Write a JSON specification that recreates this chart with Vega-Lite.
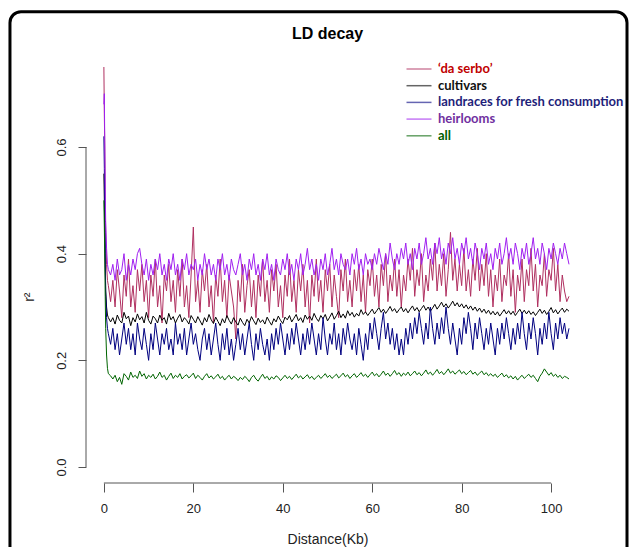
{
"$schema":"https://vega.github.io/schema/vega-lite/v6.json",
"width":483,"height":432,
"autosize":"none",
"padding":{"left":86,"top":51,"right":60,"bottom":64},
"background":"white",
"config":{"view":{"stroke":null},"font":"Liberation Sans"},
"title":{"text":"LD decay","fontSize":16,"fontWeight":"bold","font":"Liberation Sans","color":"#000000","anchor":"middle","baseline":"alphabetic","offset":-45},
"layer":[
{"data":{"values":[
{"d":0,"ds":0.75,"cv":0.55,"lr":0.62,"hl":0.68,"al":0.5},
{"d":0.1,"ds":0.66,"cv":0.5,"lr":0.56,"hl":0.7,"al":0.45},
{"d":0.2,"ds":0.6,"cv":0.44,"lr":0.48,"hl":0.6,"al":0.39},
{"d":0.3,"ds":0.5,"cv":0.38,"lr":0.4,"hl":0.52,"al":0.32},
{"d":0.4,"ds":0.44,"cv":0.33,"lr":0.33,"hl":0.46,"al":0.26},
{"d":0.6,"ds":0.38,"cv":0.3,"lr":0.28,"hl":0.41,"al":0.21},
{"d":0.8,"ds":0.35,"cv":0.285,"lr":0.26,"hl":0.38,"al":0.185},
{"d":1,"ds":0.34,"cv":0.28,"lr":0.25,"hl":0.37,"al":0.175},
{"d":1.5,"ds":0.31,"cv":0.272,"lr":0.23,"hl":0.36,"al":0.171},
{"d":2,"ds":0.35,"cv":0.28,"lr":0.26,"hl":0.38,"al":0.165},
{"d":2.5,"ds":0.3,"cv":0.268,"lr":0.22,"hl":0.35,"al":0.172},
{"d":3,"ds":0.37,"cv":0.285,"lr":0.25,"hl":0.39,"al":0.16},
{"d":3.5,"ds":0.33,"cv":0.275,"lr":0.21,"hl":0.36,"al":0.168},
{"d":4,"ds":0.28,"cv":0.27,"lr":0.24,"hl":0.37,"al":0.155},
{"d":4.5,"ds":0.36,"cv":0.29,"lr":0.27,"hl":0.4,"al":0.175},
{"d":5,"ds":0.32,"cv":0.278,"lr":0.23,"hl":0.35,"al":0.17},
{"d":5.5,"ds":0.39,"cv":0.283,"lr":0.26,"hl":0.38,"al":0.163},
{"d":6,"ds":0.3,"cv":0.265,"lr":0.22,"hl":0.36,"al":0.178},
{"d":6.5,"ds":0.34,"cv":0.28,"lr":0.25,"hl":0.39,"al":0.168},
{"d":7,"ds":0.29,"cv":0.272,"lr":0.21,"hl":0.37,"al":0.172},
{"d":7.5,"ds":0.37,"cv":0.287,"lr":0.27,"hl":0.4,"al":0.166},
{"d":8,"ds":0.33,"cv":0.276,"lr":0.24,"hl":0.41,"al":0.18},
{"d":8.5,"ds":0.38,"cv":0.282,"lr":0.22,"hl":0.38,"al":0.17},
{"d":9,"ds":0.31,"cv":0.27,"lr":0.26,"hl":0.36,"al":0.175},
{"d":9.5,"ds":0.35,"cv":0.29,"lr":0.23,"hl":0.39,"al":0.165},
{"d":10,"ds":0.28,"cv":0.275,"lr":0.2,"hl":0.35,"al":0.172},
{"d":10.5,"ds":0.36,"cv":0.268,"lr":0.25,"hl":0.38,"al":0.168},
{"d":11,"ds":0.32,"cv":0.283,"lr":0.22,"hl":0.36,"al":0.174},
{"d":11.5,"ds":0.39,"cv":0.278,"lr":0.27,"hl":0.39,"al":0.165},
{"d":12,"ds":0.3,"cv":0.27,"lr":0.24,"hl":0.37,"al":0.17},
{"d":12.5,"ds":0.34,"cv":0.285,"lr":0.21,"hl":0.4,"al":0.178},
{"d":13,"ds":0.27,"cv":0.275,"lr":0.25,"hl":0.36,"al":0.168},
{"d":13.5,"ds":0.36,"cv":0.28,"lr":0.23,"hl":0.38,"al":0.172},
{"d":14,"ds":0.33,"cv":0.268,"lr":0.26,"hl":0.35,"al":0.163},
{"d":14.5,"ds":0.38,"cv":0.288,"lr":0.22,"hl":0.39,"al":0.17},
{"d":15,"ds":0.31,"cv":0.276,"lr":0.24,"hl":0.37,"al":0.176},
{"d":15.5,"ds":0.35,"cv":0.282,"lr":0.21,"hl":0.4,"al":0.166},
{"d":16,"ds":0.29,"cv":0.27,"lr":0.27,"hl":0.36,"al":0.172},
{"d":16.5,"ds":0.37,"cv":0.279,"lr":0.23,"hl":0.38,"al":0.168},
{"d":17,"ds":0.32,"cv":0.286,"lr":0.25,"hl":0.35,"al":0.175},
{"d":17.5,"ds":0.39,"cv":0.272,"lr":0.22,"hl":0.39,"al":0.165},
{"d":18,"ds":0.3,"cv":0.28,"lr":0.26,"hl":0.37,"al":0.17},
{"d":18.5,"ds":0.34,"cv":0.275,"lr":0.21,"hl":0.4,"al":0.173},
{"d":19,"ds":0.28,"cv":0.268,"lr":0.24,"hl":0.36,"al":0.167},
{"d":19.5,"ds":0.36,"cv":0.284,"lr":0.27,"hl":0.38,"al":0.171},
{"d":20,"ds":0.45,"cv":0.277,"lr":0.23,"hl":0.37,"al":0.176},
{"d":20.5,"ds":0.31,"cv":0.27,"lr":0.25,"hl":0.39,"al":0.166},
{"d":21,"ds":0.35,"cv":0.282,"lr":0.22,"hl":0.35,"al":0.172},
{"d":21.5,"ds":0.29,"cv":0.274,"lr":0.2,"hl":0.38,"al":0.168},
{"d":22,"ds":0.37,"cv":0.266,"lr":0.24,"hl":0.36,"al":0.163},
{"d":22.5,"ds":0.33,"cv":0.28,"lr":0.26,"hl":0.4,"al":0.17},
{"d":23,"ds":0.38,"cv":0.272,"lr":0.22,"hl":0.37,"al":0.175},
{"d":23.5,"ds":0.3,"cv":0.286,"lr":0.25,"hl":0.39,"al":0.167},
{"d":24,"ds":0.34,"cv":0.276,"lr":0.21,"hl":0.36,"al":0.171},
{"d":24.5,"ds":0.27,"cv":0.269,"lr":0.24,"hl":0.38,"al":0.165},
{"d":25,"ds":0.36,"cv":0.281,"lr":0.27,"hl":0.35,"al":0.169},
{"d":25.5,"ds":0.32,"cv":0.273,"lr":0.23,"hl":0.39,"al":0.174},
{"d":26,"ds":0.39,"cv":0.265,"lr":0.2,"hl":0.37,"al":0.166},
{"d":26.5,"ds":0.31,"cv":0.278,"lr":0.25,"hl":0.4,"al":0.17},
{"d":27,"ds":0.35,"cv":0.27,"lr":0.22,"hl":0.36,"al":0.163},
{"d":27.5,"ds":0.28,"cv":0.284,"lr":0.26,"hl":0.38,"al":0.168},
{"d":28,"ds":0.36,"cv":0.275,"lr":0.21,"hl":0.35,"al":0.172},
{"d":28.5,"ds":0.33,"cv":0.268,"lr":0.24,"hl":0.39,"al":0.165},
{"d":29,"ds":0.3,"cv":0.28,"lr":0.2,"hl":0.37,"al":0.17},
{"d":29.5,"ds":0.24,"cv":0.272,"lr":0.23,"hl":0.36,"al":0.167},
{"d":30,"ds":0.35,"cv":0.266,"lr":0.26,"hl":0.38,"al":0.162},
{"d":30.5,"ds":0.31,"cv":0.279,"lr":0.22,"hl":0.4,"al":0.168},
{"d":31,"ds":0.38,"cv":0.271,"lr":0.25,"hl":0.36,"al":0.164},
{"d":31.5,"ds":0.29,"cv":0.265,"lr":0.21,"hl":0.38,"al":0.17},
{"d":32,"ds":0.34,"cv":0.277,"lr":0.24,"hl":0.35,"al":0.166},
{"d":32.5,"ds":0.37,"cv":0.27,"lr":0.27,"hl":0.39,"al":0.16},
{"d":33,"ds":0.3,"cv":0.282,"lr":0.23,"hl":0.37,"al":0.168},
{"d":33.5,"ds":0.35,"cv":0.274,"lr":0.2,"hl":0.4,"al":0.172},
{"d":34,"ds":0.28,"cv":0.267,"lr":0.25,"hl":0.36,"al":0.165},
{"d":34.5,"ds":0.36,"cv":0.279,"lr":0.22,"hl":0.38,"al":0.161},
{"d":35,"ds":0.32,"cv":0.271,"lr":0.26,"hl":0.35,"al":0.168},
{"d":35.5,"ds":0.39,"cv":0.276,"lr":0.23,"hl":0.39,"al":0.174},
{"d":36,"ds":0.31,"cv":0.268,"lr":0.21,"hl":0.37,"al":0.166},
{"d":36.5,"ds":0.35,"cv":0.281,"lr":0.24,"hl":0.4,"al":0.17},
{"d":37,"ds":0.29,"cv":0.273,"lr":0.2,"hl":0.36,"al":0.163},
{"d":37.5,"ds":0.37,"cv":0.266,"lr":0.25,"hl":0.38,"al":0.169},
{"d":38,"ds":0.33,"cv":0.278,"lr":0.22,"hl":0.35,"al":0.165},
{"d":38.5,"ds":0.38,"cv":0.272,"lr":0.26,"hl":0.39,"al":0.171},
{"d":39,"ds":0.3,"cv":0.283,"lr":0.23,"hl":0.37,"al":0.168},
{"d":39.5,"ds":0.34,"cv":0.275,"lr":0.27,"hl":0.36,"al":0.162},
{"d":40,"ds":0.28,"cv":0.269,"lr":0.24,"hl":0.39,"al":0.167},
{"d":40.5,"ds":0.36,"cv":0.281,"lr":0.21,"hl":0.37,"al":0.172},
{"d":41,"ds":0.32,"cv":0.276,"lr":0.25,"hl":0.4,"al":0.166},
{"d":41.5,"ds":0.39,"cv":0.284,"lr":0.22,"hl":0.36,"al":0.17},
{"d":42,"ds":0.31,"cv":0.272,"lr":0.26,"hl":0.38,"al":0.164},
{"d":42.5,"ds":0.35,"cv":0.279,"lr":0.23,"hl":0.35,"al":0.169},
{"d":43,"ds":0.29,"cv":0.286,"lr":0.27,"hl":0.39,"al":0.174},
{"d":43.5,"ds":0.37,"cv":0.274,"lr":0.24,"hl":0.37,"al":0.167},
{"d":44,"ds":0.33,"cv":0.28,"lr":0.21,"hl":0.4,"al":0.171},
{"d":44.5,"ds":0.38,"cv":0.271,"lr":0.25,"hl":0.36,"al":0.165},
{"d":45,"ds":0.3,"cv":0.285,"lr":0.22,"hl":0.38,"al":0.169},
{"d":45.5,"ds":0.35,"cv":0.277,"lr":0.26,"hl":0.41,"al":0.173},
{"d":46,"ds":0.27,"cv":0.283,"lr":0.23,"hl":0.37,"al":0.166},
{"d":46.5,"ds":0.36,"cv":0.275,"lr":0.27,"hl":0.39,"al":0.17},
{"d":47,"ds":0.32,"cv":0.288,"lr":0.24,"hl":0.36,"al":0.164},
{"d":47.5,"ds":0.39,"cv":0.279,"lr":0.21,"hl":0.38,"al":0.168},
{"d":48,"ds":0.31,"cv":0.273,"lr":0.25,"hl":0.35,"al":0.172},
{"d":48.5,"ds":0.35,"cv":0.284,"lr":0.22,"hl":0.39,"al":0.166},
{"d":49,"ds":0.29,"cv":0.278,"lr":0.28,"hl":0.37,"al":0.17},
{"d":49.5,"ds":0.37,"cv":0.286,"lr":0.24,"hl":0.4,"al":0.175},
{"d":50,"ds":0.33,"cv":0.274,"lr":0.21,"hl":0.36,"al":0.168},
{"d":50.5,"ds":0.38,"cv":0.281,"lr":0.25,"hl":0.38,"al":0.172},
{"d":51,"ds":0.3,"cv":0.289,"lr":0.23,"hl":0.41,"al":0.166},
{"d":51.5,"ds":0.36,"cv":0.277,"lr":0.27,"hl":0.37,"al":0.17},
{"d":52,"ds":0.32,"cv":0.284,"lr":0.22,"hl":0.39,"al":0.174},
{"d":52.5,"ds":0.28,"cv":0.292,"lr":0.25,"hl":0.36,"al":0.167},
{"d":53,"ds":0.37,"cv":0.28,"lr":0.21,"hl":0.4,"al":0.171},
{"d":53.5,"ds":0.33,"cv":0.287,"lr":0.26,"hl":0.38,"al":0.176},
{"d":54,"ds":0.39,"cv":0.279,"lr":0.23,"hl":0.37,"al":0.169},
{"d":54.5,"ds":0.31,"cv":0.293,"lr":0.27,"hl":0.39,"al":0.173},
{"d":55,"ds":0.35,"cv":0.284,"lr":0.24,"hl":0.36,"al":0.166},
{"d":55.5,"ds":0.3,"cv":0.29,"lr":0.22,"hl":0.4,"al":0.171},
{"d":56,"ds":0.37,"cv":0.281,"lr":0.25,"hl":0.38,"al":0.175},
{"d":56.5,"ds":0.33,"cv":0.288,"lr":0.21,"hl":0.41,"al":0.168},
{"d":57,"ds":0.38,"cv":0.283,"lr":0.26,"hl":0.37,"al":0.172},
{"d":57.5,"ds":0.31,"cv":0.295,"lr":0.23,"hl":0.39,"al":0.177},
{"d":58,"ds":0.36,"cv":0.286,"lr":0.2,"hl":0.36,"al":0.17},
{"d":58.5,"ds":0.29,"cv":0.291,"lr":0.25,"hl":0.4,"al":0.174},
{"d":59,"ds":0.37,"cv":0.284,"lr":0.22,"hl":0.38,"al":0.168},
{"d":59.5,"ds":0.34,"cv":0.29,"lr":0.27,"hl":0.39,"al":0.173},
{"d":60,"ds":0.39,"cv":0.296,"lr":0.24,"hl":0.37,"al":0.178},
{"d":60.5,"ds":0.32,"cv":0.287,"lr":0.28,"hl":0.4,"al":0.171},
{"d":61,"ds":0.36,"cv":0.293,"lr":0.25,"hl":0.38,"al":0.175},
{"d":61.5,"ds":0.3,"cv":0.299,"lr":0.22,"hl":0.41,"al":0.169},
{"d":62,"ds":0.38,"cv":0.29,"lr":0.26,"hl":0.39,"al":0.174},
{"d":62.5,"ds":0.34,"cv":0.296,"lr":0.29,"hl":0.37,"al":0.18},
{"d":63,"ds":0.4,"cv":0.288,"lr":0.24,"hl":0.4,"al":0.172},
{"d":63.5,"ds":0.31,"cv":0.294,"lr":0.27,"hl":0.38,"al":0.176},
{"d":64,"ds":0.36,"cv":0.301,"lr":0.23,"hl":0.42,"al":0.17},
{"d":64.5,"ds":0.33,"cv":0.292,"lr":0.26,"hl":0.39,"al":0.175},
{"d":65,"ds":0.39,"cv":0.297,"lr":0.22,"hl":0.37,"al":0.181},
{"d":65.5,"ds":0.32,"cv":0.289,"lr":0.25,"hl":0.4,"al":0.173},
{"d":66,"ds":0.37,"cv":0.295,"lr":0.21,"hl":0.38,"al":0.177},
{"d":66.5,"ds":0.3,"cv":0.3,"lr":0.24,"hl":0.41,"al":0.17},
{"d":67,"ds":0.36,"cv":0.291,"lr":0.21,"hl":0.39,"al":0.176},
{"d":67.5,"ds":0.33,"cv":0.297,"lr":0.26,"hl":0.42,"al":0.172},
{"d":68,"ds":0.39,"cv":0.289,"lr":0.23,"hl":0.38,"al":0.178},
{"d":68.5,"ds":0.35,"cv":0.296,"lr":0.27,"hl":0.4,"al":0.171},
{"d":69,"ds":0.41,"cv":0.302,"lr":0.24,"hl":0.37,"al":0.175},
{"d":69.5,"ds":0.32,"cv":0.293,"lr":0.28,"hl":0.41,"al":0.18},
{"d":70,"ds":0.37,"cv":0.299,"lr":0.25,"hl":0.39,"al":0.173},
{"d":70.5,"ds":0.34,"cv":0.291,"lr":0.29,"hl":0.42,"al":0.177},
{"d":71,"ds":0.4,"cv":0.297,"lr":0.26,"hl":0.38,"al":0.171},
{"d":71.5,"ds":0.31,"cv":0.303,"lr":0.23,"hl":0.4,"al":0.176},
{"d":72,"ds":0.36,"cv":0.294,"lr":0.27,"hl":0.43,"al":0.182},
{"d":72.5,"ds":0.33,"cv":0.3,"lr":0.24,"hl":0.39,"al":0.174},
{"d":73,"ds":0.39,"cv":0.292,"lr":0.3,"hl":0.41,"al":0.178},
{"d":73.5,"ds":0.35,"cv":0.298,"lr":0.26,"hl":0.38,"al":0.172},
{"d":74,"ds":0.42,"cv":0.305,"lr":0.23,"hl":0.42,"al":0.177},
{"d":74.5,"ds":0.33,"cv":0.296,"lr":0.27,"hl":0.4,"al":0.183},
{"d":75,"ds":0.38,"cv":0.302,"lr":0.24,"hl":0.43,"al":0.175},
{"d":75.5,"ds":0.34,"cv":0.309,"lr":0.28,"hl":0.39,"al":0.179},
{"d":76,"ds":0.4,"cv":0.3,"lr":0.25,"hl":0.41,"al":0.173},
{"d":76.5,"ds":0.32,"cv":0.306,"lr":0.3,"hl":0.38,"al":0.178},
{"d":77,"ds":0.37,"cv":0.298,"lr":0.26,"hl":0.42,"al":0.184},
{"d":77.5,"ds":0.44,"cv":0.304,"lr":0.23,"hl":0.4,"al":0.176},
{"d":78,"ds":0.35,"cv":0.311,"lr":0.27,"hl":0.43,"al":0.18},
{"d":78.5,"ds":0.39,"cv":0.302,"lr":0.24,"hl":0.39,"al":0.174},
{"d":79,"ds":0.33,"cv":0.308,"lr":0.21,"hl":0.41,"al":0.178},
{"d":79.5,"ds":0.38,"cv":0.3,"lr":0.26,"hl":0.38,"al":0.182},
{"d":80,"ds":0.34,"cv":0.306,"lr":0.23,"hl":0.42,"al":0.175},
{"d":80.5,"ds":0.41,"cv":0.298,"lr":0.28,"hl":0.4,"al":0.179},
{"d":81,"ds":0.33,"cv":0.304,"lr":0.25,"hl":0.43,"al":0.173},
{"d":81.5,"ds":0.37,"cv":0.296,"lr":0.29,"hl":0.39,"al":0.177},
{"d":82,"ds":0.32,"cv":0.302,"lr":0.26,"hl":0.41,"al":0.181},
{"d":82.5,"ds":0.39,"cv":0.294,"lr":0.22,"hl":0.38,"al":0.174},
{"d":83,"ds":0.35,"cv":0.3,"lr":0.27,"hl":0.42,"al":0.178},
{"d":83.5,"ds":0.41,"cv":0.292,"lr":0.24,"hl":0.4,"al":0.172},
{"d":84,"ds":0.33,"cv":0.298,"lr":0.28,"hl":0.37,"al":0.176},
{"d":84.5,"ds":0.38,"cv":0.29,"lr":0.25,"hl":0.41,"al":0.18},
{"d":85,"ds":0.34,"cv":0.296,"lr":0.22,"hl":0.39,"al":0.173},
{"d":85.5,"ds":0.4,"cv":0.288,"lr":0.26,"hl":0.42,"al":0.177},
{"d":86,"ds":0.32,"cv":0.294,"lr":0.23,"hl":0.38,"al":0.171},
{"d":86.5,"ds":0.37,"cv":0.286,"lr":0.27,"hl":0.4,"al":0.175},
{"d":87,"ds":0.3,"cv":0.292,"lr":0.24,"hl":0.37,"al":0.17},
{"d":87.5,"ds":0.36,"cv":0.285,"lr":0.21,"hl":0.41,"al":0.174},
{"d":88,"ds":0.33,"cv":0.291,"lr":0.26,"hl":0.39,"al":0.168},
{"d":88.5,"ds":0.39,"cv":0.283,"lr":0.23,"hl":0.42,"al":0.172},
{"d":89,"ds":0.31,"cv":0.289,"lr":0.27,"hl":0.38,"al":0.176},
{"d":89.5,"ds":0.36,"cv":0.295,"lr":0.24,"hl":0.4,"al":0.169},
{"d":90,"ds":0.34,"cv":0.287,"lr":0.28,"hl":0.43,"al":0.173},
{"d":90.5,"ds":0.4,"cv":0.293,"lr":0.25,"hl":0.39,"al":0.167},
{"d":91,"ds":0.32,"cv":0.286,"lr":0.22,"hl":0.41,"al":0.171},
{"d":91.5,"ds":0.37,"cv":0.292,"lr":0.26,"hl":0.38,"al":0.165},
{"d":92,"ds":0.29,"cv":0.284,"lr":0.23,"hl":0.42,"al":0.17},
{"d":92.5,"ds":0.36,"cv":0.29,"lr":0.27,"hl":0.4,"al":0.163},
{"d":93,"ds":0.33,"cv":0.296,"lr":0.24,"hl":0.37,"al":0.168},
{"d":93.5,"ds":0.39,"cv":0.288,"lr":0.29,"hl":0.41,"al":0.172},
{"d":94,"ds":0.31,"cv":0.294,"lr":0.25,"hl":0.39,"al":0.166},
{"d":94.5,"ds":0.37,"cv":0.287,"lr":0.22,"hl":0.42,"al":0.17},
{"d":95,"ds":0.34,"cv":0.293,"lr":0.27,"hl":0.38,"al":0.174},
{"d":95.5,"ds":0.41,"cv":0.286,"lr":0.24,"hl":0.4,"al":0.168},
{"d":96,"ds":0.33,"cv":0.291,"lr":0.28,"hl":0.43,"al":0.172},
{"d":96.5,"ds":0.38,"cv":0.284,"lr":0.25,"hl":0.39,"al":0.166},
{"d":97,"ds":0.3,"cv":0.29,"lr":0.21,"hl":0.41,"al":0.16},
{"d":97.5,"ds":0.36,"cv":0.296,"lr":0.26,"hl":0.38,"al":0.17},
{"d":98,"ds":0.34,"cv":0.288,"lr":0.23,"hl":0.42,"al":0.176},
{"d":98.5,"ds":0.4,"cv":0.294,"lr":0.27,"hl":0.4,"al":0.184},
{"d":99,"ds":0.32,"cv":0.286,"lr":0.24,"hl":0.37,"al":0.178},
{"d":99.5,"ds":0.37,"cv":0.292,"lr":0.29,"hl":0.41,"al":0.172},
{"d":100,"ds":0.35,"cv":0.299,"lr":0.25,"hl":0.39,"al":0.177},
{"d":100.5,"ds":0.41,"cv":0.289,"lr":0.22,"hl":0.42,"al":0.17},
{"d":101,"ds":0.33,"cv":0.295,"lr":0.27,"hl":0.4,"al":0.174},
{"d":101.5,"ds":0.38,"cv":0.287,"lr":0.24,"hl":0.38,"al":0.168},
{"d":102,"ds":0.31,"cv":0.293,"lr":0.28,"hl":0.41,"al":0.172},
{"d":102.5,"ds":0.36,"cv":0.298,"lr":0.25,"hl":0.39,"al":0.166},
{"d":103,"ds":0.33,"cv":0.29,"lr":0.27,"hl":0.42,"al":0.17},
{"d":103.5,"ds":0.31,"cv":0.296,"lr":0.24,"hl":0.4,"al":0.168},
{"d":104,"ds":0.32,"cv":0.292,"lr":0.26,"hl":0.38,"al":0.165}
]},
 "transform":[{"fold":["ds","cv","lr","hl","al"],"as":["series","r2"]}],
 "mark":{"type":"line","strokeWidth":1},
 "encoding":{
  "x":{"field":"d","type":"quantitative","scale":{"domain":[-4,104],"nice":false,"zero":false},
   "axis":{"values":[0,20,40,60,80,100],"format":"d","domain":false,"grid":false,"tickSize":9,"tickColor":"#555555","labelColor":"#222222","labelFont":"Liberation Sans","labelFontSize":13,"labelPadding":10,"title":"Distance(Kb)","titleFont":"Liberation Sans","titleFontSize":14,"titleFontWeight":"normal","titleColor":"#222222","titleX":241.5,"titleY":56.5,"titleBaseline":"middle"}},
  "y":{"field":"r2","type":"quantitative","scale":{"domain":[-0.03,0.78],"nice":false,"zero":false},
   "axis":{"values":[0,0.2,0.4,0.6],"format":".1f","domain":false,"grid":false,"tickSize":8,"tickColor":"#555555","labelColor":"#222222","labelFont":"Liberation Sans","labelFontSize":13,"labelAngle":270,"labelAlign":"center","labelBaseline":"bottom","labelPadding":10,"title":"r²","titleFont":"Liberation Sans","titleFontSize":14,"titleFontWeight":"normal","titleColor":"#222222","titleAngle":270,"titleX":-57,"titleY":245.7,"titleAlign":"center","titleBaseline":"middle"}},
  "color":{"field":"series","type":"nominal",
   "scale":{"domain":["ds","cv","lr","hl","al"],"range":["#B03060","#000000","#000080","#A020F0","#006400"]},
   "legend":{"orient":"none","legendX":326,"legendY":11,"title":null,"padding":0,"symbolType":"M-2,0H2","symbolSize":156.25,"symbolStrokeWidth":1.5,"symbolOpacity":0.6,"labelFont":"Lato","labelFontSize":13,"labelFontWeight":"bold","labelOffset":12,"labelLimit":400,"rowPadding":2.7,
    "labelExpr":"datum.value == 'ds' ? '‘da serbo’' : datum.value == 'cv' ? 'cultivars' : datum.value == 'lr' ? 'landraces for fresh consumption' : datum.value == 'hl' ? 'heirlooms' : 'all'",
    "encode":{"labels":{"update":{"fill":{"signal":"datum.value == 'ds' ? '#C00000' : datum.value == 'cv' ? '#111111' : datum.value == 'lr' ? '#1F1F7A' : datum.value == 'hl' ? '#7030A0' : '#006000'"}}}}}}
 }},
{"data":{"values":[{"item":"frame"}]},
 "mark":{"type":"rect","filled":false,"stroke":"#000000","strokeWidth":3,"cornerRadius":11},
 "encoding":{
  "x":{"datum":-21.0,"type":"quantitative"},
  "x2":{"datum":116.97},
  "y":{"datum":0.8537,"type":"quantitative"},
  "y2":{"datum":-0.1838}}},
{"data":{"values":[{"item":"xaxis"}]},
 "mark":{"type":"rule","color":"#555555","strokeWidth":1},
 "encoding":{
  "x":{"datum":0,"type":"quantitative"},
  "x2":{"datum":100},
  "y":{"datum":-0.03,"type":"quantitative"}}},
{"data":{"values":[{"item":"yaxis"}]},
 "mark":{"type":"rule","color":"#555555","strokeWidth":1},
 "encoding":{
  "x":{"datum":-4,"type":"quantitative"},
  "y":{"datum":0,"type":"quantitative"},
  "y2":{"datum":0.6}}}
]
}
